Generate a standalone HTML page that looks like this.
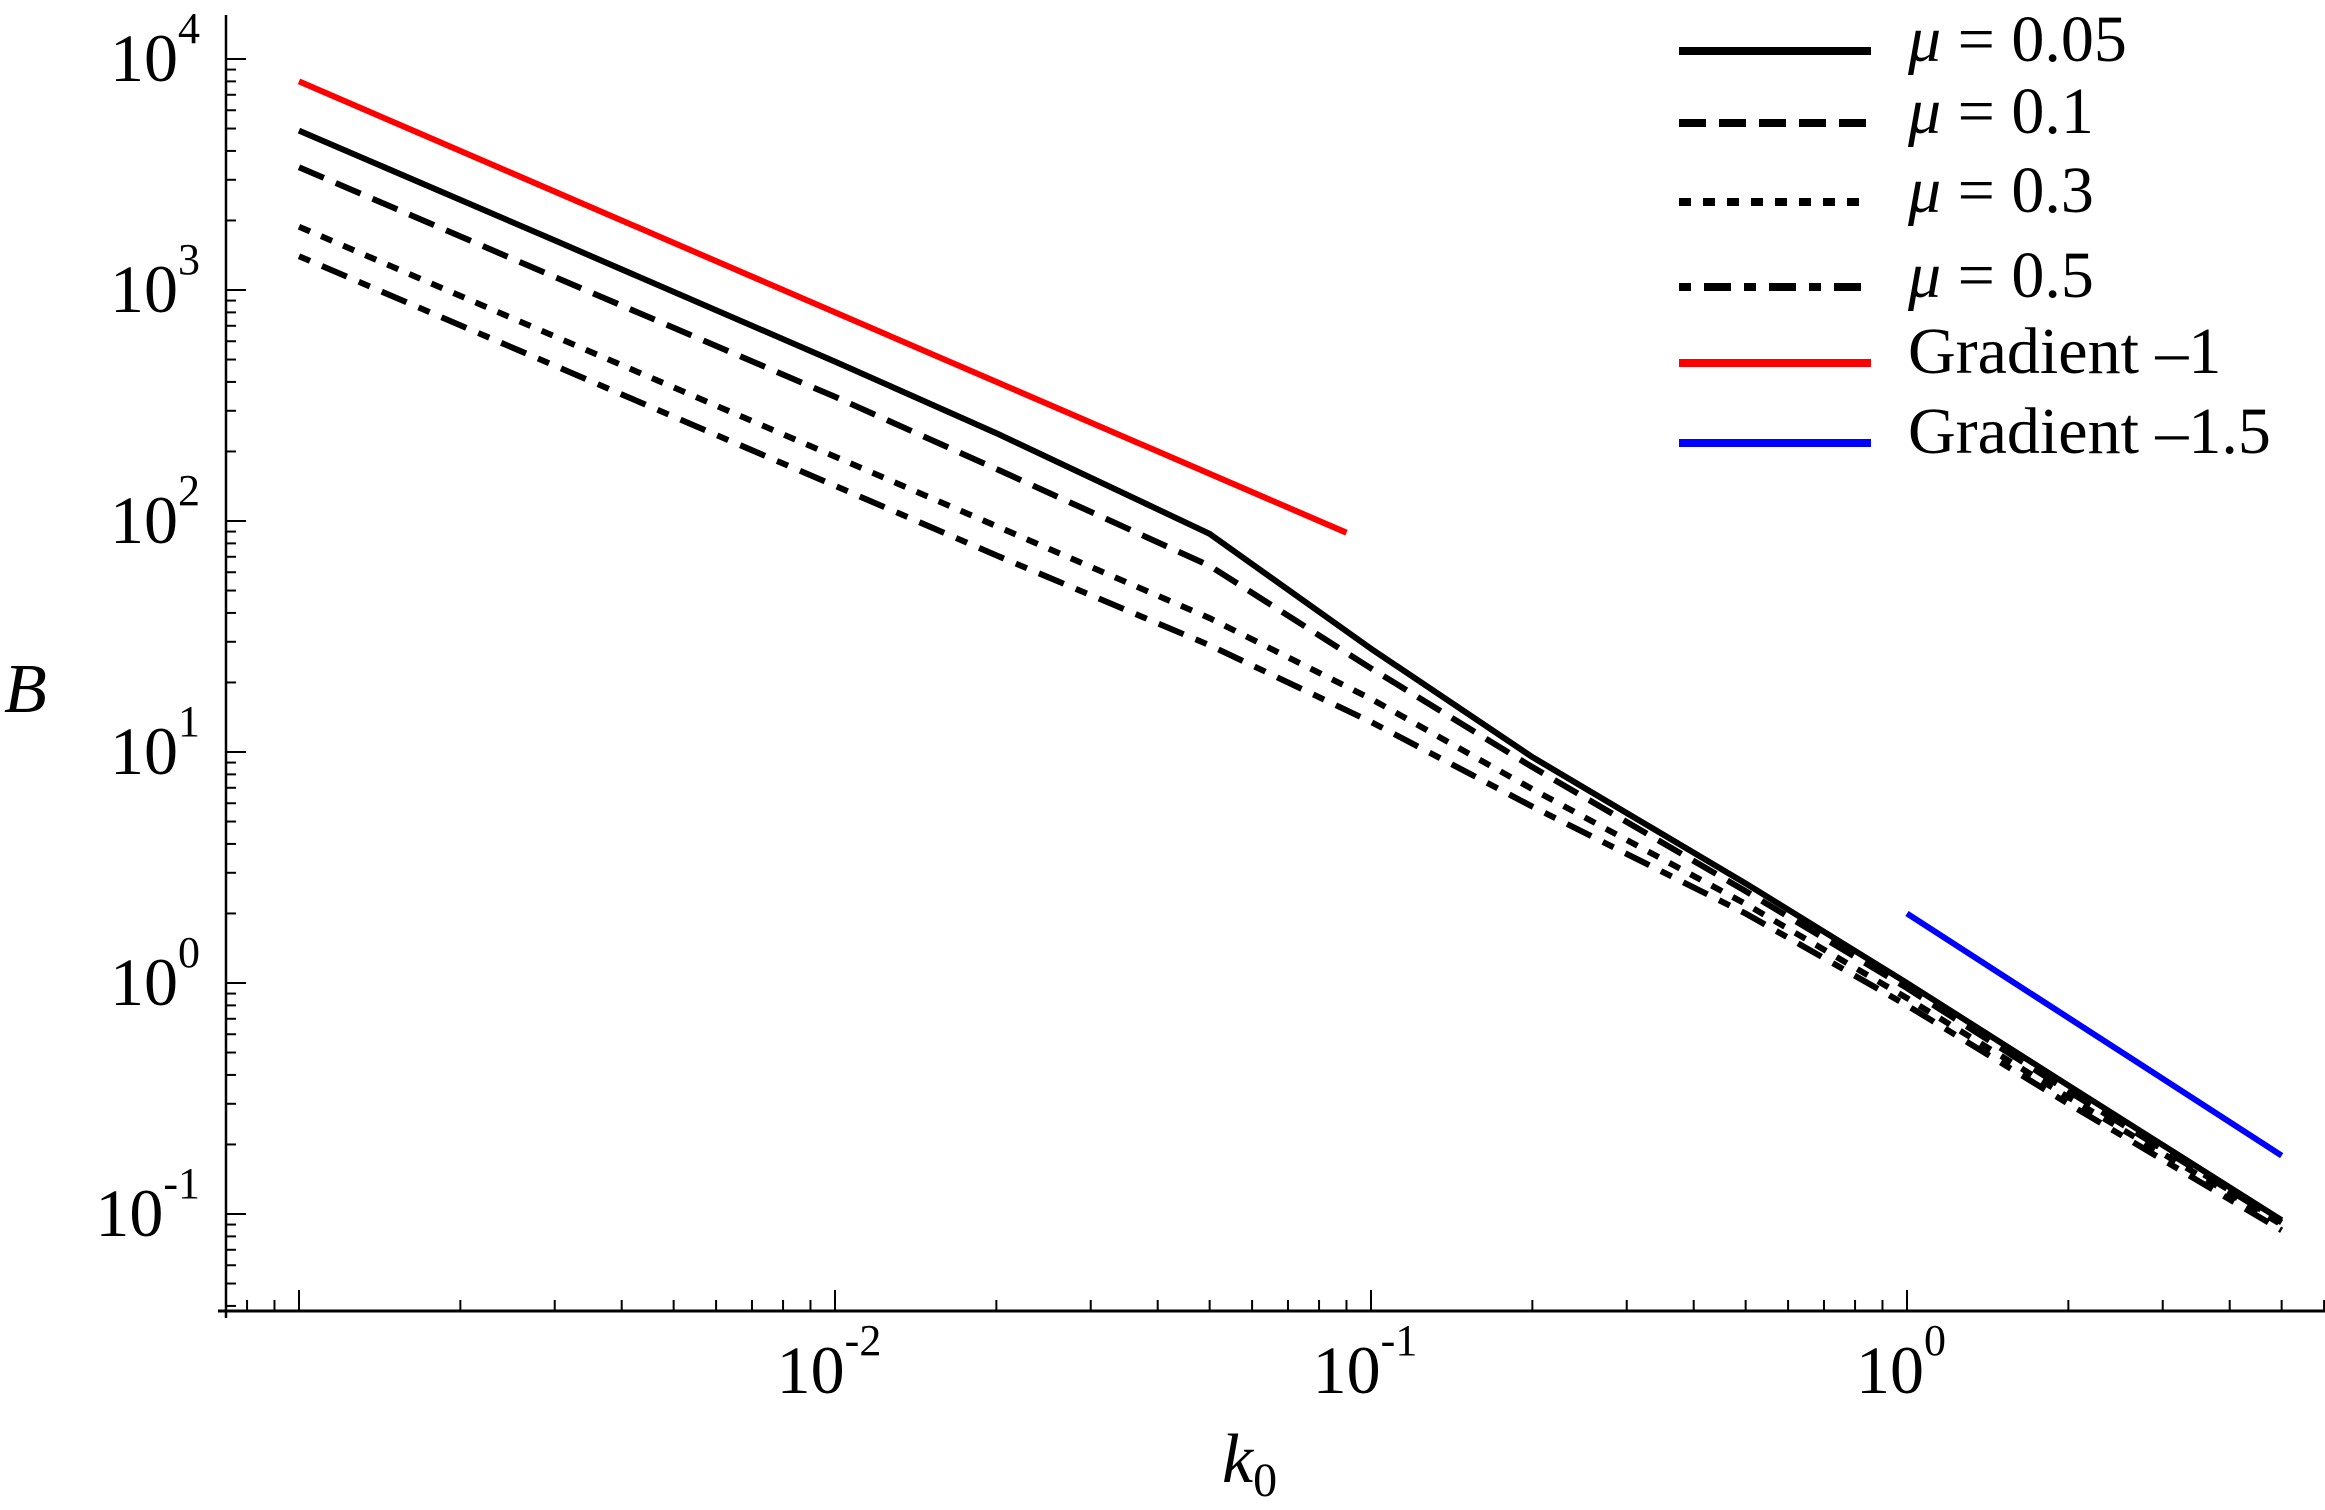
<!DOCTYPE html>
<html><head><meta charset="utf-8">
<style>
html,body{margin:0;padding:0;background:#fff;}
svg{display:block;}
text{font-family:"Liberation Serif",serif;fill:#000;}
</style></head>
<body>
<svg id="chart" width="2325" height="1510" viewBox="0 0 2325 1510" xmlns="http://www.w3.org/2000/svg">
<g id="axes"></g>
<g id="series"></g>
<g id="legend"></g>
<text x="4" y="712" font-size="70" font-style="italic">B</text>
<text x="1222" y="1482" font-size="70" font-style="italic">k<tspan font-style="normal" font-size="48" dy="14">0</tspan></text>
</svg>
<script>
const kValues = [0.001,0.003,0.01,0.02,0.05,0.1,0.2,0.5,1,2,5];
const mu005 = [4900,1640,490,240,88,28,9.5,2.7,1.0,0.36,0.094];
const mu01 = [3400,1140,345,168,64,23,8.6,2.5,0.95,0.34,0.092];
const mu03 = [1880,630,190,95,38,17,6.9,2.2,0.86,0.32,0.09];
const mu05 = [1400,470,142,71,29,13.5,5.8,2.0,0.80,0.30,0.085];
const redK = [0.001,0.09];
const redB = [8000,89];
const blueK = [1,5];
const blueB = [2,0.179];
const xTickLabels = ["-2","-1","0"];
const xTickExps = [-2,-1,0];
const yTickExps = [4,3,2,1,0,-1];
const seriesNames = ["μ = 0.05","μ = 0.1","μ = 0.3","μ = 0.5","Gradient –1","Gradient –1.5"];

const NS="http://www.w3.org/2000/svg";
function X(k){return 1907+Math.log10(k)*536;}
function Y(b){return 59+(4-Math.log10(b))*231;}
function mk(tag,attrs,parent){const e=document.createElementNS(NS,tag);for(const a in attrs)e.setAttribute(a,attrs[a]);parent.appendChild(e);return e;}

const axes=document.getElementById('axes');
const ax1=mk('line',{x1:226,y1:15,x2:226,y2:1318,stroke:'#000','stroke-width':2.5},axes);


const ax2=mk('line',{x1:218,y1:1311,x2:2325,y2:1311,stroke:'#000','stroke-width':3},axes);



// y ticks
for(let e=-2;e<=4;e++){
  for(let m=1;m<=9;m++){
    const v=m*Math.pow(10,e);const y=Y(v);
    if(y<20||y>1308)continue;
    const len=m===1?20:10;
    const t=mk('line',{x1:226,y1:y,x2:226+len,y2:y,stroke:'#000','stroke-width':2},axes);
    
    
  }
}
yTickExps.forEach(e=>{
  const y=Y(Math.pow(10,e));
  const t=mk('text',{x:200,y:y+22,'font-size':68,'text-anchor':'end'},axes);
  
  
  t.innerHTML='10<tspan font-size="44" dy="-38">'+(e<0?'-'+(-e):e)+'</tspan>';
});
// x ticks
for(let e=-4;e<=0;e++){
  for(let m=1;m<=9;m++){
    const v=m*Math.pow(10,e);const x=X(v);
    if(x<232||x>2325)continue;
    const len=m===1?21:11;
    const t=mk('line',{x1:x,y1:1311,x2:x,y2:1311-len,stroke:'#000','stroke-width':2},axes);
    
    
  }
}
xTickExps.forEach((e,i)=>{
  const x=X(Math.pow(10,e));
  const t=mk('text',{x:x-6,y:1393,'font-size':68,'text-anchor':'middle'},axes);
  
  
  t.innerHTML='10<tspan font-size="44" dy="-38">'+xTickLabels[i]+'</tspan>';
});

// series
const series=document.getElementById('series');
const styles=[
 {name:'series-mu-0.05',data:mu005,dash:'',color:'#000'},
 {name:'series-mu-0.1',data:mu01,dash:'27 13',color:'#000'},
 {name:'series-mu-0.3',data:mu03,dash:'12 12',color:'#000'},
 {name:'series-mu-0.5',data:mu05,dash:'12 13 27 13',color:'#000'}
];
styles.forEach(s=>{
  const pts=kValues.map((k,i)=>X(k).toFixed(1)+','+Y(s.data[i]).toFixed(1)).join(' ');
  const p=mk('polyline',{points:pts,fill:'none',stroke:s.color,'stroke-width':6,'stroke-dasharray':s.dash,'stroke-linejoin':'round'},series);
  
  
});
const red=mk('polyline',{points:redK.map((k,i)=>X(k)+','+Y(redB[i])).join(' '),fill:'none',stroke:'#f00','stroke-width':6},series);


const blue=mk('polyline',{points:blueK.map((k,i)=>X(k)+','+Y(blueB[i])).join(' '),fill:'none',stroke:'#00f','stroke-width':6},series);



// legend
const legend=document.getElementById('legend');
const legY=[51,123,202,287,363,443];
const legStyles=[['#000',''],['#000','27 13'],['#000','12 12'],['#000','12 13 27 13'],['#f00',''],['#00f','']];
seriesNames.forEach((n,i)=>{
  const g=mk('g',{},legend);
  
  
  const l=mk('line',{x1:1679,y1:legY[i],x2:1871,y2:legY[i],stroke:legStyles[i][0],'stroke-width':8,'stroke-dasharray':legStyles[i][1]},g);
  
  
  const t=mk('text',{x:1908,y:legY[i]+10,'font-size':66},g);
  
  
  if(i<4){t.innerHTML='<tspan font-style="italic">μ</tspan> = '+n.split('= ')[1];}
  else t.textContent=n;
});
</script>
</body></html>
